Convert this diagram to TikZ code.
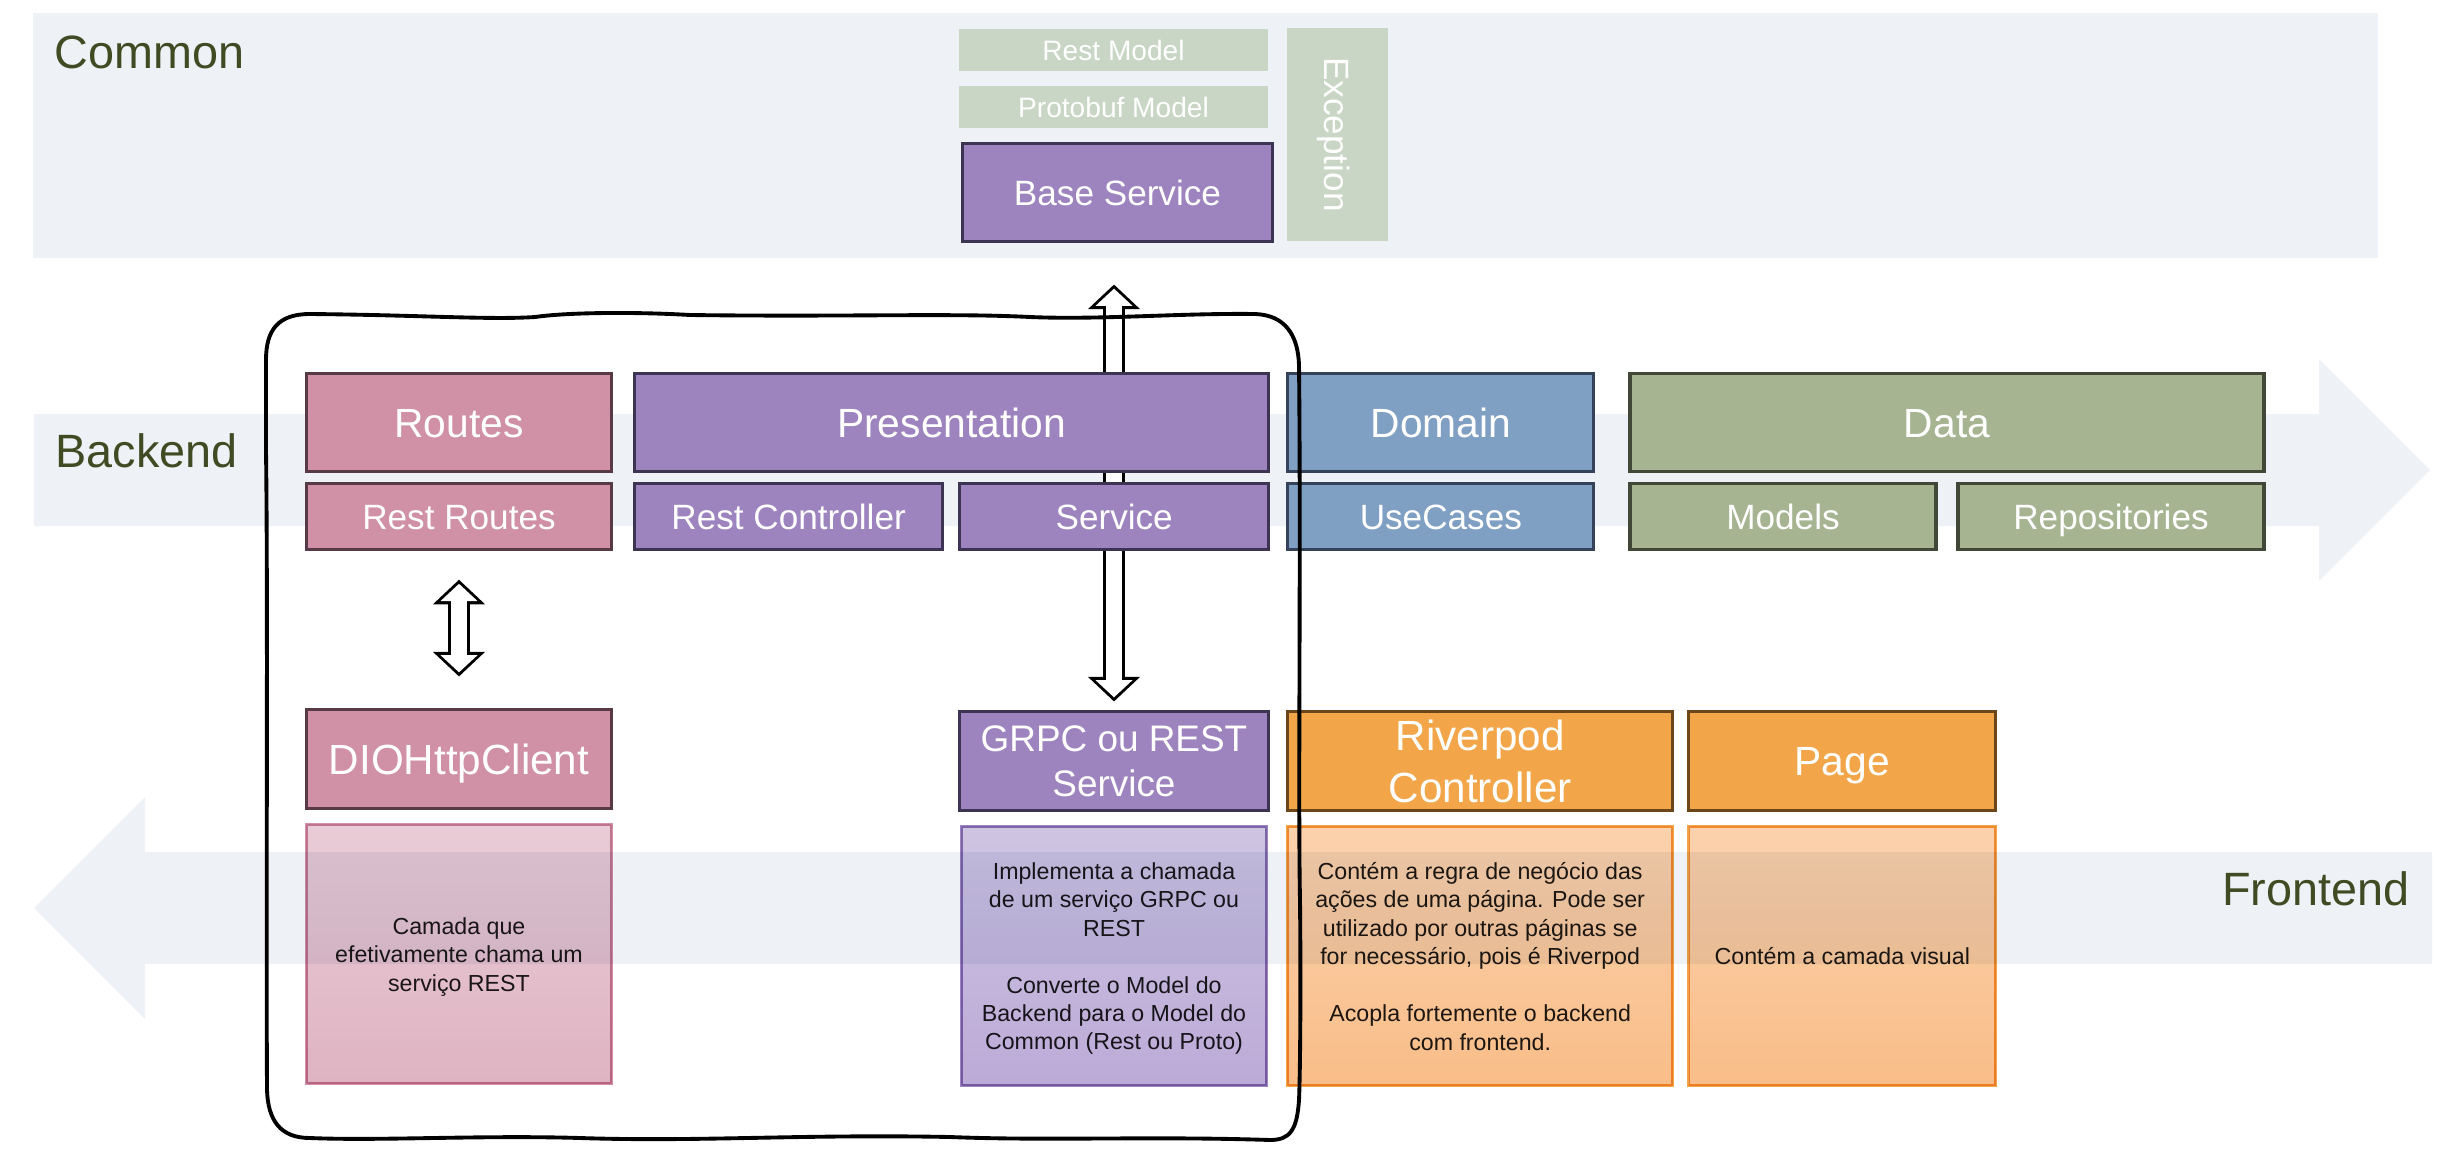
\documentclass[tikz,border=0pt]{standalone}
\usepackage{fontspec}
\setmainfont{Liberation Sans}
\usetikzlibrary{positioning,calc,arrows.meta,backgrounds}

\definecolor{bandgray}{HTML}{EEF1F6}
\definecolor{labelolive}{HTML}{414B23}
\definecolor{sage}{HTML}{C9D5C5}
\definecolor{routefill}{HTML}{D091A6}
\definecolor{routeline}{HTML}{573A46}
\definecolor{presfill}{HTML}{9D84BF}
\definecolor{presline}{HTML}{3C3452}
\definecolor{domfill}{HTML}{7F9FC3}
\definecolor{domline}{HTML}{34425A}
\definecolor{datafill}{HTML}{A6B492}
\definecolor{dataline}{HTML}{424838}
\definecolor{frontfill}{HTML}{F2A649}
\definecolor{frontline}{HTML}{6A4618}
\definecolor{routeedge}{HTML}{D291A8}
\definecolor{routetop}{HTML}{E9CCD7}
\definecolor{routebot}{HTML}{DFB3C2}
\definecolor{presedge}{HTML}{9D84BF}
\definecolor{prestop}{HTML}{CEC5E2}
\definecolor{presbot}{HTML}{BCAAD7}
\definecolor{frontedge}{HTML}{F2A649}
\definecolor{fronttop}{HTML}{FBD2AD}
\definecolor{frontbot}{HTML}{F9BD88}
\definecolor{desctext}{HTML}{1E1E1E}

\begin{document}
\begin{tikzpicture}[
                box/.style={draw, line width=0.9pt, text=white, inner sep=0pt, align=center, text depth=0pt},
                head/.style={box, minimum height=0.98cm, text height=8.3pt, font=\fontsize{11.6}{14}\selectfont},
                sub/.style={box, minimum height=0.66cm, text height=7.2pt, font=\fontsize{10}{12}\selectfont},
                twoline/.style={box, minimum height=0.99cm},
                model/.style={fill=sage, text=white, inner sep=0pt, minimum width=3.09cm, minimum height=0.42cm,
                    text height=5.7pt, text depth=0pt, font=\fontsize{8}{10}\selectfont},
                descbox/.style={line width=0.9pt, inner sep=0pt, minimum height=2.59cm, align=center, text depth=0pt,
                    text=desctext, blend mode=multiply, font=\fontsize{6.6}{8.1}\selectfont},
                layer/.style={text=labelolive, inner sep=0pt, font=\fontsize{13.3}{15}\selectfont},
                band/.style={fill=bandgray},
                sketch/.style={line width=1.1pt, line join=round},
                fatout/.style={line width=0.22cm,
                    {Triangle[line width=0pt, length=0.245cm, width=0.52cm]}-{Triangle[line width=0pt, length=0.245cm, width=0.52cm]}},
                fatin/.style={white, line width=0.16cm, shorten <=0.041cm, shorten >=0.041cm,
                    {Triangle[line width=0pt, length=0.172cm, width=0.37cm]}-{Triangle[line width=0pt, length=0.172cm, width=0.37cm]}}]
            \useasboundingbox (0,0) rectangle (24.47,-11.60);

            \begin{scope}[on background layer]
                \fill[band] (0.33,-0.13) rectangle (23.78,-2.58);
                \fill[band] (0.34,-4.14) -- (23.19,-4.14) -- (23.19,-3.59) -- (24.30,-4.70)
                    -- (23.19,-5.81) -- (23.19,-5.26) -- (0.34,-5.26) -- cycle;
                \fill[band] (24.32,-8.52) -- (1.45,-8.52) -- (1.45,-7.97) -- (0.34,-9.08)
                    -- (1.45,-10.19) -- (1.45,-9.64) -- (24.32,-9.64) -- cycle;
            \end{scope}

            \node[layer, anchor=base west]  (commonlbl)   at (0.54,-0.68)   {Common};
            \node[layer, anchor=base west]  (backendlbl)  at (0.55,-4.67)   {Backend};
            \node[layer, anchor=base east]  (frontendlbl) at (24.10,-9.05)  {Frontend};

            \node[model]                    (restmodel)   at (11.135,-0.50) {Rest Model};
            \node[model]                    (protomodel)  [below=0.14cm of restmodel] {Protobuf Model};
            \node[box, fill=presfill, draw=presline, minimum width=3.10cm, minimum height=0.98cm, text height=7.2pt,
                font=\fontsize{10}{12}\selectfont] (base) at (11.175,-1.925) {Base Service};
            \node[model, minimum width=2.13cm, minimum height=1.01cm, rotate=-90, text height=7.2pt,
                font=\fontsize{10}{12}\selectfont] (exception) at (13.375,-1.345) {Exception};

            \node[head, fill=routefill, draw=routeline, minimum width=3.05cm] (routes)       at (4.59,-4.225) {Routes};
            \node[head, fill=presfill, draw=presline, minimum width=6.34cm]   (presentation) [right=0.20cm of routes] {Presentation};
            \node[head, fill=domfill, draw=domline, minimum width=3.06cm]     (domain)       [right=0.16cm of presentation] {Domain};
            \node[head, fill=datafill, draw=dataline, minimum width=6.34cm]   (data)         [right=0.33cm of domain] {Data};

            \node[sub, fill=routefill, draw=routeline, minimum width=3.05cm]  (restroutes) [below=0.09cm of routes] {Rest Routes};
            \node[sub, fill=presfill, draw=presline, minimum width=3.08cm]    (restctrl)   [below right=0.09cm and 0cm of presentation.south west] {Rest Controller};
            \node[sub, fill=presfill, draw=presline, minimum width=3.09cm]    (service)    [below left=0.09cm and 0cm of presentation.south east] {Service};
            \node[sub, fill=domfill, draw=domline, minimum width=3.06cm]      (usecases)   [below=0.09cm of domain] {UseCases};
            \node[sub, fill=datafill, draw=dataline, minimum width=3.06cm]    (models)     [below right=0.09cm and 0cm of data.south west] {Models};
            \node[sub, fill=datafill, draw=dataline, minimum width=3.06cm]    (repos)      [below left=0.09cm and 0cm of data.south east] {Repositories};

            \node[head, fill=routefill, draw=routeline, minimum width=3.05cm, minimum height=0.99cm, text height=8.6pt,
                font=\fontsize{12}{14.4}\selectfont] (dio) at (4.59,-7.59) {DIOHttpClient};
            \node[twoline, fill=presfill, draw=presline, minimum width=3.09cm,
                font=\fontsize{10.5}{12.8}\selectfont] (grpc) at (11.14,-7.61) {GRPC ou REST\\Service};
            \node[twoline, fill=frontfill, draw=frontline, minimum width=3.85cm,
                font=\fontsize{12}{14.7}\selectfont] (riverpod) [right=0.16cm of grpc] {Riverpod\\Controller};
            \node[head, fill=frontfill, draw=frontline, minimum width=3.07cm, minimum height=0.99cm]
                (page) [right=0.13cm of riverpod] {Page};

            \node[descbox, draw=routeedge, top color=routetop, bottom color=routebot, minimum width=3.05cm]
                (diodesc) [below=0.13cm of dio]
                {Camada que\\efetivamente chama um\\serviço REST};
            \node[descbox, draw=presedge, top color=prestop, bottom color=presbot, minimum width=3.05cm]
                (grpcdesc) [below=0.13cm of grpc]
                {Implementa a chamada\\de um serviço GRPC ou\\REST\\[8.1pt]Converte o Model do\\Backend para o Model do\\Common (Rest ou Proto)};
            \node[descbox, draw=frontedge, top color=fronttop, bottom color=frontbot, minimum width=3.85cm]
                (riverdesc) [below=0.13cm of riverpod]
                {Contém a regra de negócio das\\ações de uma página. Pode ser\\utilizado por outras páginas se\\for necessário, pois é Riverpod\\[8.1pt]Acopla fortemente o backend\\com frontend.};
            \node[descbox, draw=frontedge, top color=fronttop, bottom color=frontbot, minimum width=3.07cm]
                (pagedesc) [below=0.13cm of page]
                {Contém a camada visual};

            \begin{scope}[on background layer]
                \draw[fatout] ([yshift=0.085cm]grpc.north) -- ($(grpc.north |- base.south)+(0,-0.415)$);
                \draw[fatin]  ([yshift=0.085cm]grpc.north) -- ($(grpc.north |- base.south)+(0,-0.415)$);
                \draw[fatout] ([yshift=0.315cm]dio.north) -- ([yshift=-0.285cm]restroutes.south);
                \draw[fatin]  ([yshift=0.315cm]dio.north) -- ([yshift=-0.285cm]restroutes.south);
            \end{scope}

            \draw[sketch] (2.66,-3.60)
                .. controls (2.66,-3.30) and (2.78,-3.14) .. (3.10,-3.14)
                .. controls (4.20,-3.15) and (4.90,-3.20) .. (5.35,-3.17)
                .. controls (5.70,-3.12) and (6.40,-3.12) .. (6.90,-3.15)
                .. controls (8.50,-3.17) and (9.50,-3.13) .. (10.30,-3.17)
                .. controls (11.00,-3.20) and (11.80,-3.13) .. (12.55,-3.14)
                .. controls (12.85,-3.15) and (12.98,-3.35) .. (12.99,-3.65)
                .. controls (13.01,-5.50) and (12.98,-8.00) .. (13.00,-9.00)
                .. controls (13.01,-10.00) and (13.00,-10.80) .. (12.99,-11.00)
                .. controls (12.97,-11.30) and (12.90,-11.40) .. (12.70,-11.40)
                .. controls (11.50,-11.36) and (10.50,-11.41) .. (9.50,-11.37)
                .. controls (8.00,-11.34) and (7.00,-11.42) .. (5.80,-11.38)
                .. controls (4.80,-11.35) and (3.80,-11.41) .. (3.10,-11.38)
                .. controls (2.80,-11.38) and (2.68,-11.20) .. (2.67,-10.90)
                .. controls (2.66,-9.00) and (2.68,-6.00) .. (2.66,-4.50) -- cycle;
        \end{tikzpicture}
\end{document}
